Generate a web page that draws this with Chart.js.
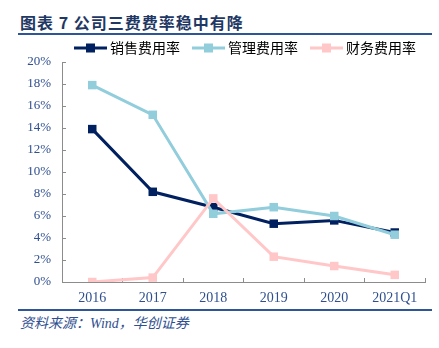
<!DOCTYPE html>
<html>
<head>
<meta charset="utf-8">
<script src="https://cdn.jsdelivr.net/npm/chart.js@4/dist/chart.umd.min.js"></script>
<style>
  body { margin: 0; background: #fff; }
  #wrap { position: relative; width: 439px; height: 348px; overflow: hidden; }
  #title {
    position: absolute; left: 20px; top: 10px;
    font: bold 16px "Noto Sans CJK SC", sans-serif; color: #1f3864;
    letter-spacing: 1px;
  }
  .rule { position: absolute; left: 18px; width: 414px; height: 2px; background: #2e5597; }
  #source {
    position: absolute; left: 20px; top: 312px;
    font: italic 14px "Liberation Serif", "Noto Sans CJK SC", serif; color: #2f4f8f;
  }
  canvas { position: absolute; left: 0; top: 0; }
</style>
</head>
<body>
<div id="wrap">
  <div id="title">图表 7 公司三费费率稳中有降</div>
  <div class="rule" style="top:33px"></div>
  <div class="rule" style="top:309px"></div>
  <div id="source">资料来源：Wind，华创证券</div>
  <canvas id="rateChart" width="439" height="348"></canvas>
</div>
<script>
// 三费费率 (%)
const periods = ['2016', '2017', '2018', '2019', '2020', '2021Q1'];
const salesRate = [13.9, 8.2, 6.8, 5.3, 5.6, 4.5];
const adminRate = [17.9, 15.2, 6.2, 6.8, 6.0, 4.3];
const financeRate = [0.0, 0.4, 7.6, 2.3, 1.45, 0.65];
const yTicks = [0, 2, 4, 6, 8, 10, 12, 14, 16, 18, 20];

const navy = '#002060';
const skyBlue = '#92cddc';
const pink = '#ffc7c7';
const axisGray = '#8c8c8c';
const tickBlue = '#2f4f8f';
const serif = '"Liberation Serif", "Times New Roman", serif';

// legend icon: short line with a square in the middle
function legendIcon(color) {
    const c = document.createElement('canvas');
    c.width = 40;
    c.height = 12;
    const g = c.getContext('2d');
    g.strokeStyle = color;
    g.lineWidth = 3;
    g.beginPath();
    g.moveTo(7, 6);
    g.lineTo(40, 6);
    g.stroke();
    g.fillStyle = color;
    g.fillRect(19, 1.5, 9, 9);
    return c;
}

function series(label, data, color, order) {
    return {
        label: label,
        data: data,
        borderColor: color,
        backgroundColor: color,
        borderWidth: 3,
        pointStyle: 'rect',
        pointRadius: 6,
        pointHoverRadius: 6,
        pointBorderWidth: 0,
        tension: 0,
        order: order
    };
}

// keep the legend row compact so the plot starts right under it
const tightLegend = {
    id: 'tightLegend',
    afterInit(chart) {
        const legend = chart.legend;
        const fit = legend.fit.bind(legend);
        legend.fit = () => {
            fit();
            legend.height -= 3;
        };
    }
};

const rateChart = new Chart(document.getElementById('rateChart').getContext('2d'), {
    type: 'line',
    data: {
        labels: periods,
        datasets: [
            series('销售费用率', salesRate, navy, 3),
            series('管理费用率', adminRate, skyBlue, 2),
            series('财务费用率', financeRate, pink, 1)
        ]
    },
    options: {
        responsive: false,
        animation: false,
        layout: { padding: { top: 32, left: 0, right: 14, bottom: 40 } },
        scales: {
            x: {
                type: 'category',
                offset: true,
                afterFit: s => { s.height = 26; },
                grid: { offset: true, drawOnChartArea: false, tickLength: -4, color: axisGray },
                border: { color: axisGray, width: 1 },
                ticks: { color: tickBlue, font: { family: serif, size: 14 }, padding: 12, maxRotation: 0 }
            },
            y: {
                min: 0,
                max: 20,
                afterFit: s => { s.width = 62; },
                afterBuildTicks: s => { s.ticks = yTicks.map(v => ({ value: v })); },
                grid: { drawOnChartArea: false, tickLength: -4, color: axisGray },
                border: { color: axisGray, width: 1 },
                ticks: {
                    autoSkip: false,
                    color: tickBlue,
                    font: { family: serif, size: 13 },
                    padding: 15,
                    callback: v => v + '%'
                }
            }
        },
        plugins: {
            legend: {
                position: 'top',
                fullSize: false,
                labels: {
                    usePointStyle: true,
                    pointStyleWidth: 32,
                    padding: 9,
                    color: '#1f3864',
                    font: { family: '"Noto Sans CJK SC", sans-serif', size: 14 },
                    generateLabels: chart => chart.data.datasets.map((ds, i) => ({
                        text: ds.label,
                        pointStyle: legendIcon(ds.borderColor),
                        fillStyle: ds.borderColor,
                        strokeStyle: ds.borderColor,
                        lineWidth: 0,
                        hidden: false,
                        datasetIndex: i
                    }))
                }
            },
            tooltip: { enabled: false }
        }
    },
    plugins: [tightLegend]
});
</script>
</body>
</html>
